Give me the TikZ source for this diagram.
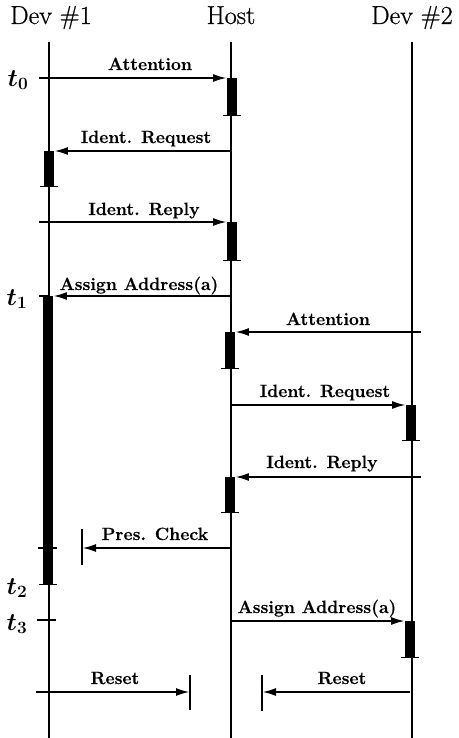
\documentclass[tikz,border=0pt]{standalone}
\usepackage{fontspec}
\newfontfamily\headfont{Latin Modern Roman}[FakeBold=0.7]
\newfontfamily\lblfont{Latin Modern Roman}[FakeBold=0.5]
\usetikzlibrary{arrows.meta}
\begin{document}
\begin{tikzpicture}[x=1pt,y=-1pt,
  life/.style={line width=1.3pt},
  msg/.style={line width=2.2pt,-{Latex[length=14pt,width=8pt]}},
  bar/.style={fill=black,draw=none,minimum width=9.5pt,inner sep=0pt,anchor=north},
  tickmark/.style={line width=1.5pt},
  stopmark/.style={line width=1.5pt},
  lbl/.style={font=\lblfont\fontsize{17.7}{20}\selectfont\bfseries,inner sep=0pt,anchor=base},
  head/.style={font=\headfont\fontsize{26}{30}\selectfont,inner sep=0pt,anchor=base},
  tlab/.style={font=\fontsize{24}{28}\selectfont\mathversion{bold},inner sep=0pt}]
\useasboundingbox (0,0) rectangle (458,738);
% headers
\node[head] (hd1) at (51,24) {Dev \#1};
\node[head] (hh) at (231,24) {Host};
\node[head] (hd2) at (412,24) {Dev \#2};
% lifelines
\coordinate (d1top) at (49,42); \coordinate (d1bot) at (49,738);
\coordinate (htop) at (231,42); \coordinate (hbot) at (231,738);
\coordinate (d2top) at (412,42); \coordinate (d2bot) at (412,738);
\draw[life] (d1top) -- (d1bot);
\draw[life] (htop) -- (hbot);
\draw[life] (d2top) -- (d2bot);
% activation bars
\node[bar,minimum height=37pt] (H1) at (232,78) {};
\node[bar,minimum height=35pt] (D1a) at (49,151) {};
\node[bar,minimum height=38pt] (H2) at (232,222) {};
\node[bar,minimum height=288pt] (D1b) at (48,296) {};
\node[bar,minimum height=36pt] (H3) at (230,332) {};
\node[bar,minimum height=35pt] (D2a) at (411,405) {};
\node[bar,minimum height=35pt] (H4) at (230,477) {};
\node[bar,minimum height=36pt] (D2b) at (410,621) {};
% bottom ticks of bars
\foreach \b in {H1,D1a,H2,D1b,H3,D2a,H4,D2b}{
  \draw[tickmark] ([xshift=-9pt]\b.south) -- ([xshift=9pt]\b.south);}
% extra ticks on Dev #1
\coordinate (t0a) at (39,78);
\coordinate (t1a) at (39,296);
\draw[tickmark] (t1a) -- (D1b.north);
\coordinate (pc1) at (38,548); \coordinate (pc2) at (57,548);
\draw[tickmark] (pc1) -- (pc2);
\coordinate (t3a) at (37,620); \coordinate (t3b) at (56,620);
\draw[tickmark] (t3a) -- (t3b);
% time labels
\node[tlab] (t0) at (18,80) {$t_0$};
\node[tlab] (t1) at (17,299) {$t_1$};
\node[tlab] (t2) at (17,588) {$t_2$};
\node[tlab] (t3) at (17,624) {$t_3$};
% messages
\draw[msg] (t0a) -- (H1.north west);
\node[lbl] (l1) at (150,70) {Attention};
\coordinate (m2s) at (231,151);
\draw[msg] (m2s) -- (D1a.north east);
\node[lbl] (l2) at (146,143) {Ident. Request};
\coordinate (m3s) at (39,222);
\draw[msg] (m3s) -- (H2.north west);
\node[lbl] (l3) at (144,215) {Ident. Reply};
\coordinate (m4s) at (231,296);
\draw[msg] (m4s) -- (D1b.north east);
\node[lbl] (l4) at (139,290) {Assign Address(a)};
\coordinate (m5s) at (421,332);
\draw[msg] (m5s) -- (H3.north east);
\node[lbl] (l5) at (328,325) {Attention};
\coordinate (m6s) at (231,405);
\draw[msg] (m6s) -- (D2a.north west);
\node[lbl] (l6) at (325,397) {Ident. Request};
\coordinate (m7s) at (421,477);
\draw[msg] (m7s) -- (H4.north east);
\node[lbl] (l7) at (322,468) {Ident. Reply};
% presence check
\coordinate (m8s) at (230,548);
\coordinate (m8e) at (82,548);
\coordinate (m8t) at (82,529); \coordinate (m8b) at (82,565);
\draw[stopmark] (m8t) -- (m8b);
\draw[msg] (m8s) -- (m8e);
\node[lbl] (l8) at (155,540) {Pres. Check};
% assign address 2
\coordinate (m9s) at (230,621);
\draw[msg] (m9s) -- (D2b.north west);
\node[lbl] (l9) at (317,613) {Assign Address(a)};
% resets
\coordinate (r1s) at (36,692); \coordinate (r1e) at (190,692);
\coordinate (r1t) at (190,675); \coordinate (r1b) at (190,710);
\draw[stopmark] (r1t) -- (r1b);
\draw[msg] (r1s) -- (r1e);
\node[lbl] (l10) at (115,684) {Reset};
\coordinate (r2s) at (410,692); \coordinate (r2e) at (262,692);
\coordinate (r2t) at (262,675); \coordinate (r2b) at (262,711);
\draw[stopmark] (r2t) -- (r2b);
\draw[msg] (r2s) -- (r2e);
\node[lbl] (l11) at (342,684) {Reset};
\end{tikzpicture}
\end{document}
